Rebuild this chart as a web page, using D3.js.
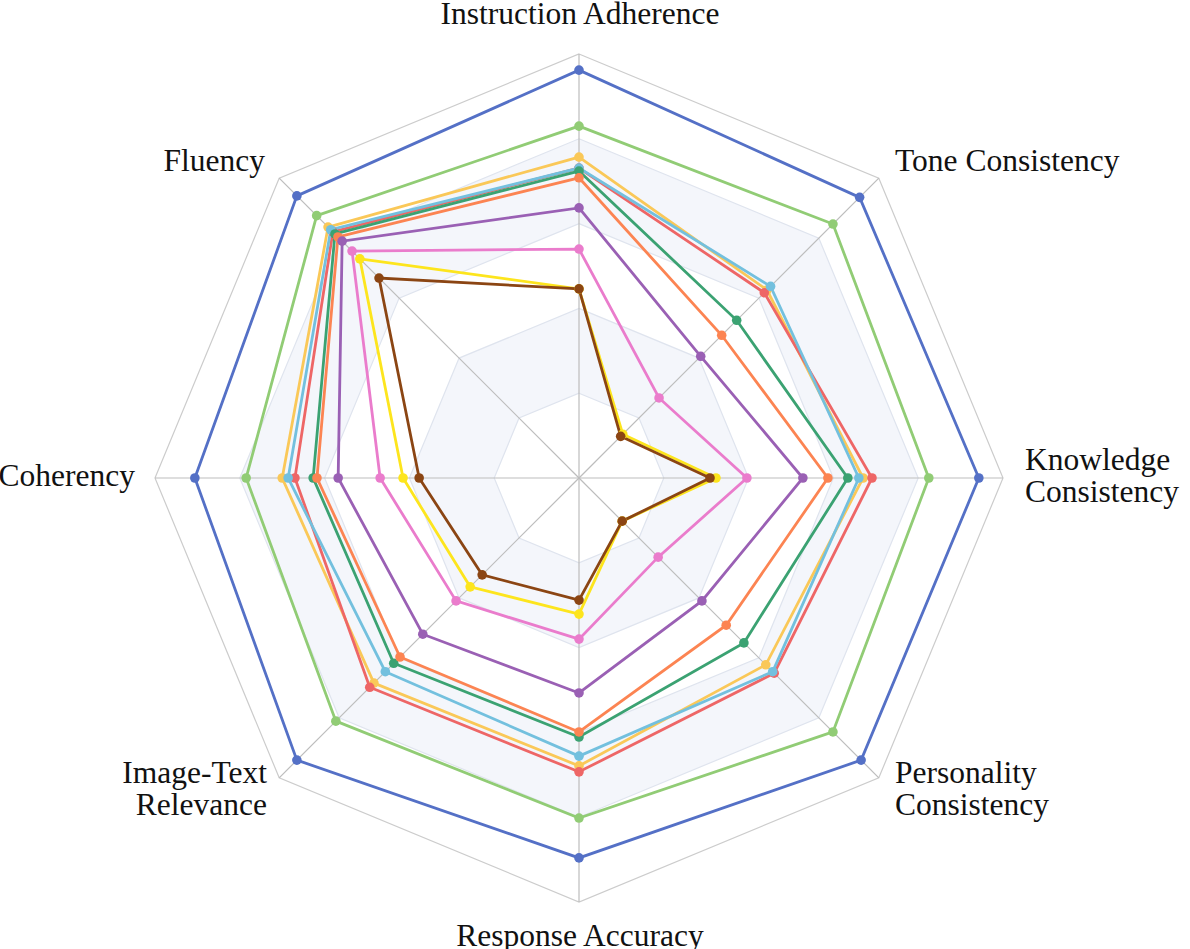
<!DOCTYPE html>
<html>
<head>
<meta charset="utf-8">
<script src="https://cdn.jsdelivr.net/npm/d3@7"></script>
<style>
  body { margin: 0; background: #fff; }
  text { font-family: "Liberation Serif", "DejaVu Serif", serif; font-size: 31.5px; fill: #111; }
</style>
</head>
<body>
<svg id="chart" width="1190" height="949"></svg>
<script>
var axes = ["Instruction Adherence", "Tone Consistency", "Knowledge Consistency", "Personality Consistency",
            "Response Accuracy", "Image-Text Relevance", "Coherency", "Fluency"];

var colors = ["#5470c6", "#91cc75", "#fac858", "#ee6666", "#73c0de", "#3ba272", "#fc8452", "#9a60b4", "#ea7ccc", "#fde51d", "#8b4513"];

// one array per series, values in axis order
var sBlue   = [9.62, 9.36, 9.43, 9.41, 8.96, 9.41, 9.06, 9.41];
var sGreen  = [8.30, 8.47, 8.25, 8.47, 8.02, 8.11, 7.85, 8.75];
var sGold   = [7.57, 6.27, 6.70, 6.23, 6.79, 6.84, 7.00, 8.37];
var sRed    = [7.31, 6.18, 6.91, 6.51, 6.93, 6.98, 6.70, 8.21];
var sSky    = [7.31, 6.39, 6.60, 6.46, 6.56, 6.46, 6.86, 8.28];
var sTeal   = [7.24, 5.26, 6.34, 5.50, 6.11, 6.18, 6.27, 8.14];
var sOrange = [7.08, 4.76, 5.87, 4.91, 5.99, 5.97, 6.18, 8.04];
var sPurple = [6.37, 4.06, 5.28, 4.10, 5.07, 5.21, 5.68, 7.90];
var sPink   = [5.40, 2.67, 3.96, 2.64, 3.80, 4.10, 4.69, 7.57];
var sYellow = [4.46, 1.46, 3.23, 1.44, 3.21, 3.63, 4.15, 7.31];
var sBrown  = [4.46, 1.39, 3.09, 1.44, 2.88, 3.23, 3.77, 6.67];
var series = [sBlue, sGreen, sGold, sRed, sSky, sTeal, sOrange, sPurple, sPink, sYellow, sBrown];

var ringLevels = [2, 4, 6, 8, 10];

var cx = 579, cy = 478, R = 424;
var svg = d3.select("#chart");
var g = svg.append("g").attr("transform", "translate(" + cx + "," + cy + ")");

var r = d3.scaleLinear().domain([0, 10]).range([0, R]);
var ang = d3.scaleLinear().domain([0, axes.length]).range([0, 2 * Math.PI]);

function pt(i, v) {
  var a = ang(i);
  return [r(v) * Math.sin(a), -r(v) * Math.cos(a)];
}
function ringPts(v) { return axes.map(function(d, i) { return pt(i, v); }); }

// shaded bands (between rings 1-2 and 3-4)
[[2, 4], [6, 8]].forEach(function(b) {
  var outer = ringPts(b[1]), inner = ringPts(b[0]).reverse();
  g.append("path")
    .attr("d", "M" + outer.join("L") + "Z M" + inner.join("L") + "Z")
    .attr("fill", "#f4f6fb").attr("fill-rule", "evenodd");
});

// ring lines
ringLevels.forEach(function(v) {
  g.append("polygon")
    .attr("points", ringPts(v).join(" "))
    .attr("fill", "none")
    .attr("stroke", v === 10 ? "#cccccc" : "#dfe4ee")
    .attr("stroke-width", 1.2);
});

// spokes
axes.forEach(function(d, i) {
  var p = pt(i, 10);
  g.append("line").attr("x1", 0).attr("y1", 0).attr("x2", p[0]).attr("y2", p[1])
    .attr("stroke", "#bdbdbd").attr("stroke-width", 1.2);
});

// series
var line = d3.line().curve(d3.curveLinearClosed);
series.forEach(function(s, k) {
  var pts = s.map(function(v, i) { return pt(i, v); });
  g.append("path").attr("d", line(pts)).attr("fill", "none")
    .attr("stroke", colors[k]).attr("stroke-width", 2.8);
});
series.forEach(function(s, k) {
  g.selectAll(null).data(s).enter().append("circle")
    .attr("cx", function(v, i) { return pt(i, v)[0]; })
    .attr("cy", function(v, i) { return pt(i, v)[1]; })
    .attr("r", 4.8).attr("fill", colors[k]);
});

// labels
var labels = [
  {lines: ["Instruction Adherence"], x: 580, y: 24, a: "middle"},
  {lines: ["Tone Consistency"], x: 895, y: 171, a: "start"},
  {lines: ["Knowledge", "Consistency"], x: 1025, y: 470, a: "start"},
  {lines: ["Personality", "Consistency"], x: 895, y: 783, a: "start"},
  {lines: ["Response Accuracy"], x: 580, y: 946, a: "middle"},
  {lines: ["Image-Text", "Relevance"], x: 267, y: 783, a: "end"},
  {lines: ["Coherency"], x: 135, y: 486, a: "end"},
  {lines: ["Fluency"], x: 265, y: 171, a: "end"}
];
labels.forEach(function(l) {
  var t = svg.append("text").attr("text-anchor", l.a);
  l.lines.forEach(function(s, j) {
    t.append("tspan").attr("x", l.x).attr("y", l.y + j * 32).text(s);
  });
});
</script>
</body>
</html>
